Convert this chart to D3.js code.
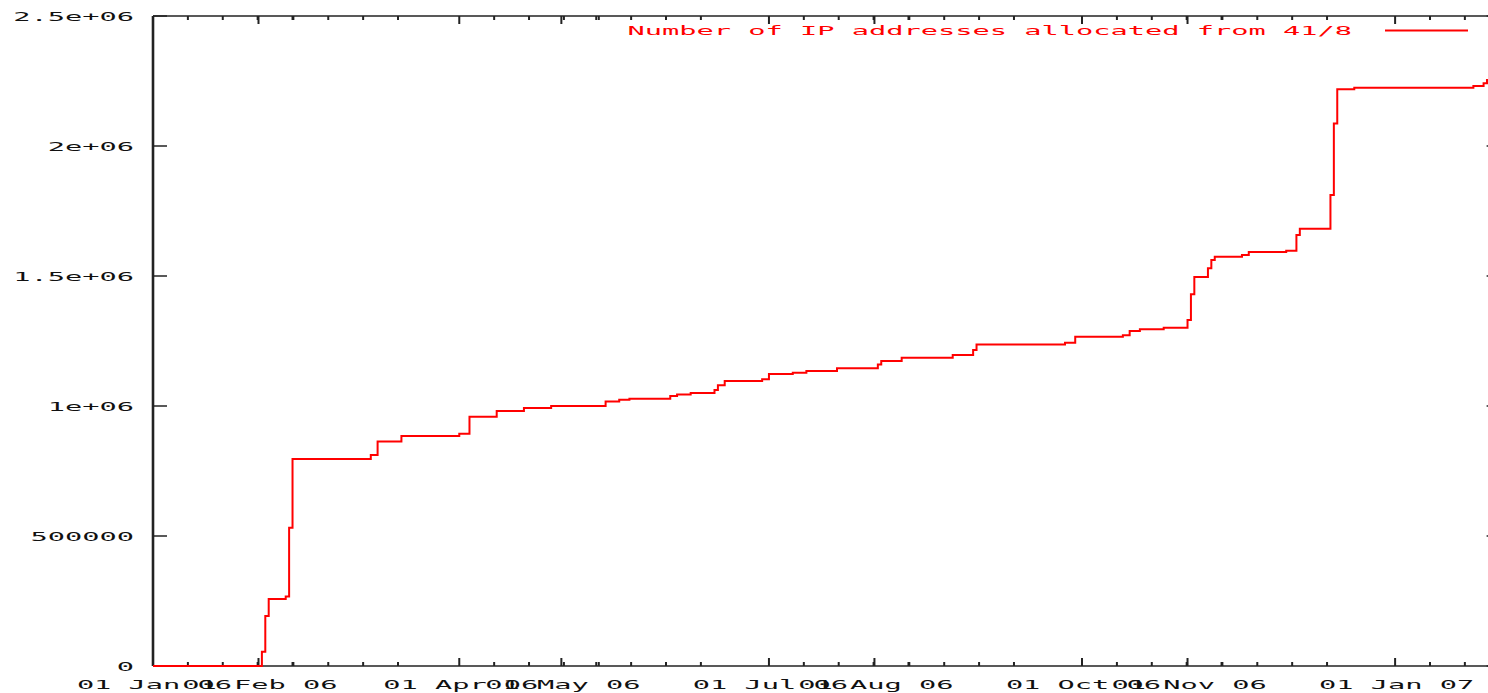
<!DOCTYPE html>
<html><head><meta charset="utf-8">
<script src="https://cdn.jsdelivr.net/npm/d3@7"></script>
<style>html,body{margin:0;padding:0;background:#fff;overflow:hidden}</style>
</head><body><svg id="c" width="1488" height="693"></svg>
<script>
// ---- data ----
const dates = ["2006-01-01","2006-02-02","2006-02-03","2006-02-04","2006-02-09","2006-02-10","2006-02-11",
  "2006-03-06","2006-03-08","2006-03-15","2006-04-01","2006-04-04","2006-04-12","2006-04-20","2006-04-28",
  "2006-05-14","2006-05-18","2006-05-21","2006-06-02","2006-06-04","2006-06-08","2006-06-15","2006-06-16",
  "2006-06-18","2006-06-29","2006-07-01","2006-07-08","2006-07-12","2006-07-21","2006-08-02","2006-08-03",
  "2006-08-09","2006-08-24","2006-08-30","2006-08-31","2006-09-26","2006-09-29","2006-10-13","2006-10-15",
  "2006-10-18","2006-10-25","2006-11-01","2006-11-02","2006-11-03","2006-11-07","2006-11-08","2006-11-09",
  "2006-11-17","2006-11-19","2006-11-30","2006-12-03","2006-12-04","2006-12-13","2006-12-14","2006-12-15",
  "2006-12-20","2007-01-24","2007-01-27","2007-01-28","2007-01-31"];
const values = [0,55000,192000,258000,267000,532000,796000,
  812000,863000,885000,893000,959000,981000,992000,1000000,
  1017000,1024000,1028000,1038000,1044000,1050000,1062000,1080000,
  1096000,1103000,1123000,1128000,1135000,1145000,1160000,1173000,
  1186000,1196000,1215000,1237000,1243000,1266000,1272000,1288000,
  1295000,1301000,1331000,1430000,1496000,1530000,1562000,1574000,
  1581000,1592000,1597000,1658000,1682000,1812000,2087000,2218000,
  2224000,2231000,2241000,2254000,2254000];
const xTickDates = ["2006-01-01","2006-02-01","2006-04-01","2006-05-01","2006-07-01","2006-08-01","2006-10-01","2006-11-01","2007-01-01"];
const xTickLabels = ["01 Jan 06","01 Feb 06","01 Apr 06","01 May 06","01 Jul 06","01 Aug 06","01 Oct 06","01 Nov 06","01 Jan 07"];
const yTickValues = [0,500000,1000000,1500000,2000000,2500000];
const yTickLabels = ["0","500000","1e+06","1.5e+06","2e+06","2.5e+06"];
const seriesName = "Number of IP addresses allocated from 41/8";
const xDomain = ["2006-01-01","2007-02-01"];
const yDomain = [0,2500000];

// ---- layout ----
const L = 153, T = 16, B = 666, R = 1500.6;
const CW = 17.25; // stretched character advance
const parse = d3.utcParse("%Y-%m-%d");
const x = d3.scaleUtc().domain(xDomain.map(parse)).range([L, R]);
const y = d3.scaleLinear().domain(yDomain).range([B, T]);
const svg = d3.select("#c");
const axisCol = "#222";
const FONT = "'DejaVu Sans Mono', monospace";

function stretchedText(g, str, xLeft, yBase, fill) {
  return g.append("text").attr("x", xLeft).attr("y", yBase)
    .attr("textLength", str.length * CW).attr("lengthAdjust", "spacingAndGlyphs")
    .attr("font-family", FONT).attr("font-size", 12.5).attr("fill", fill).text(str);
}

// border
svg.append("line").attr("x1", L).attr("x2", L).attr("y1", T).attr("y2", B).attr("stroke", axisCol).attr("stroke-width", 2.6);
svg.append("line").attr("x1", L).attr("x2", R).attr("y1", T).attr("y2", T).attr("stroke", axisCol).attr("stroke-width", 1.6);
svg.append("line").attr("x1", L).attr("x2", R).attr("y1", B).attr("y2", B).attr("stroke", axisCol).attr("stroke-width", 1.6);
svg.append("line").attr("x1", R).attr("x2", R).attr("y1", T).attr("y2", B).attr("stroke", axisCol).attr("stroke-width", 2.6);

// y ticks
const gy = svg.append("g");
yTickValues.forEach((v, i) => {
  const yy = y(v);
  gy.append("line").attr("x1", L).attr("x2", L + 14).attr("y1", yy).attr("y2", yy).attr("stroke", axisCol).attr("stroke-width", 1.5);
  gy.append("line").attr("x1", R).attr("x2", R - 14).attr("y1", yy).attr("y2", yy).attr("stroke", axisCol).attr("stroke-width", 1.5);
  const s = yTickLabels[i];
  stretchedText(gy, s, 134 - s.length * CW, yy + 4.5, "#111");
});

// x ticks
const gx = svg.append("g");
const majors = xTickDates.map(parse);
const minorStep = 10.25 * 86400000;
majors.forEach((d, i) => {
  const xx = x(d);
  gx.append("line").attr("x1", xx).attr("x2", xx).attr("y1", B).attr("y2", B - 8).attr("stroke", axisCol).attr("stroke-width", 2);
  gx.append("line").attr("x1", xx).attr("x2", xx).attr("y1", T).attr("y2", T + 8).attr("stroke", axisCol).attr("stroke-width", 2);
  for (let k = 1; k <= 4; k++) {
    const md = new Date(d.getTime() + k * minorStep);
    if (md > x.domain()[1]) break;
    const mx = x(md);
    gx.append("line").attr("x1", mx).attr("x2", mx).attr("y1", B).attr("y2", B - 4).attr("stroke", axisCol).attr("stroke-width", 2);
    gx.append("line").attr("x1", mx).attr("x2", mx).attr("y1", T).attr("y2", T + 4).attr("stroke", axisCol).attr("stroke-width", 2);
  }
  const s = xTickLabels[i];
  stretchedText(gx, s, xx - s.length * CW / 2 + 1.5, 689, "#111");
});

// series line
const data = dates.map((d, i) => ({ d: parse(d), v: values[i] }));
const line = d3.line().x(p => x(p.d)).y(p => y(p.v)).curve(d3.curveStepAfter);
svg.append("path").datum(data).attr("d", line).attr("fill", "none").attr("stroke", "#ff0000").attr("stroke-width", 2);

// legend
const lg = svg.append("g");
stretchedText(lg, seriesName, 1352 - seriesName.length * CW, 35, "#ff0000");
lg.append("line").attr("x1", 1385).attr("x2", 1468).attr("y1", 30.5).attr("y2", 30.5).attr("stroke", "#ff0000").attr("stroke-width", 2);
</script></body></html>
